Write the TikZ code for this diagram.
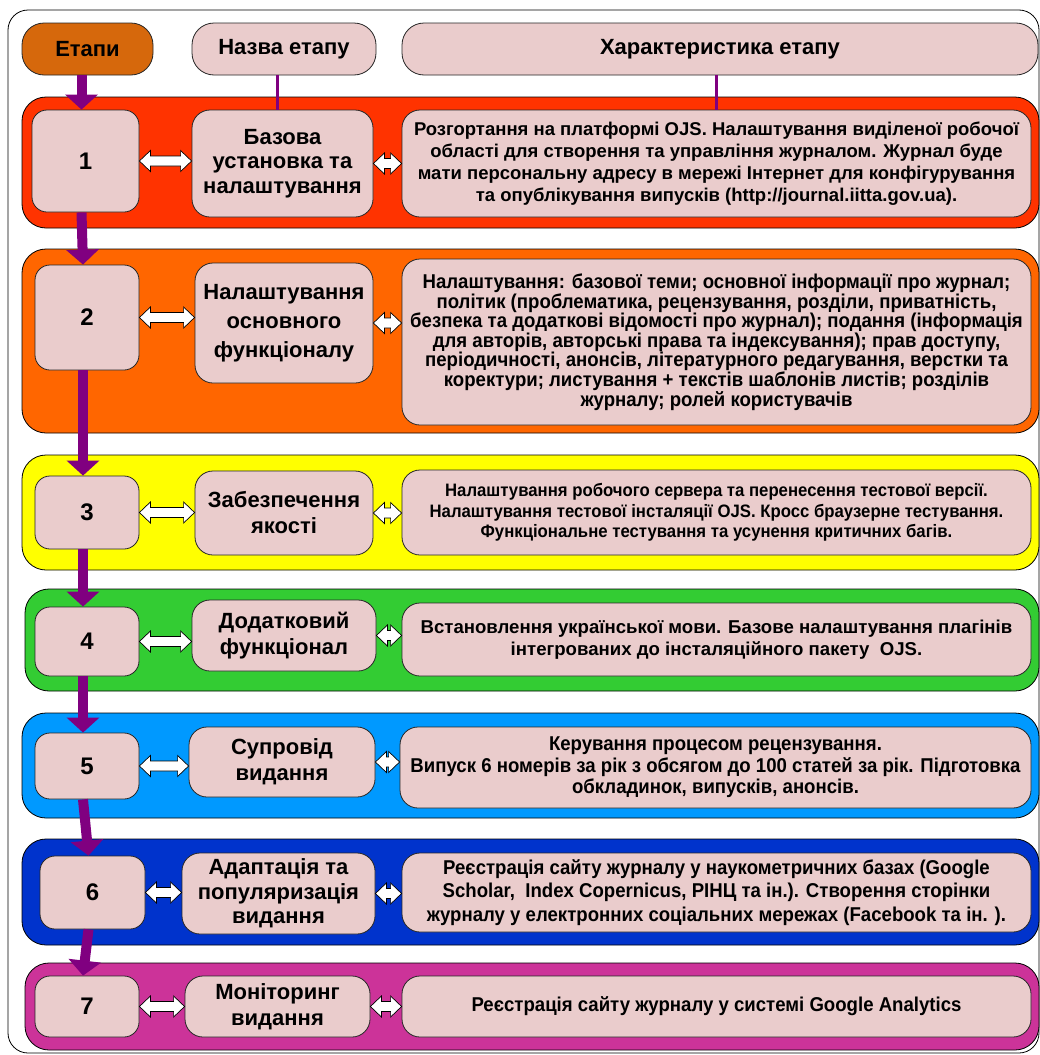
\documentclass[tikz,border=0pt]{standalone}
\usepackage{fontspec}
\setmainfont{Liberation Sans}
\newfontfamily\nar[FakeStretch=0.93]{Liberation Sans}
\usetikzlibrary{arrows.meta,calc}
\definecolor{pinkbox}{RGB}{234,204,204}
\definecolor{etapy}{RGB}{214,104,12}
\definecolor{bred}{RGB}{255,51,0}
\definecolor{borange}{RGB}{255,102,0}
\definecolor{byellow}{RGB}{255,255,0}
\definecolor{bgreen}{RGB}{51,204,51}
\definecolor{blblue}{RGB}{0,153,255}
\definecolor{bblue}{RGB}{0,51,204}
\definecolor{bmag}{RGB}{204,51,153}
\definecolor{parr}{RGB}{128,0,128}
\tikzset{
  x=1pt, y=-1pt,
  band/.style={draw=black, line width=0.8pt, rounded corners=24pt, inner sep=0pt},
  pbox/.style={draw=black!85, line width=0.8pt, fill=pinkbox, rounded corners=17pt, align=center, inner sep=0pt},
  hdr/.style={pbox, rounded corners=22pt, font=\fontsize{22}{26}\selectfont\bfseries},
  numbox/.style={pbox, rounded corners=15pt, font=\fontsize{24}{28}\selectfont\bfseries},
  namebox/.style={pbox, rounded corners=18pt, font=\fontsize{22}{24.5}\selectfont\bfseries},
  descbox/.style={pbox, rounded corners=18pt},
  parrow/.style={draw=parr, line width=10pt, -{Triangle[width=32pt,length=15pt]}, color=parr},
  hline/.style={draw=parr, line width=3pt},
  darr/.style={draw=black, fill=white, line width=0.7pt, line join=miter}
}
\newcommand\boxat[7]{\node[#1, minimum width={#4-#2}, minimum height={#5-#3}] (#6) at ({(#2+#4)/2},{(#3+#5)/2}) {#7};}
\newcommand\dblarr[2]{\path[darr] let \p1=(#1), \p2=(#2) in
  (\x1,\y1) -- ({\x1+11pt},{\y1+10.5pt}) -- ({\x1+11pt},{\y1+5pt}) -- ({\x2-11pt},{\y1+5pt}) -- ({\x2-11pt},{\y1+10.5pt}) -- (\x2,\y1)
  -- ({\x2-11pt},{\y1-10.5pt}) -- ({\x2-11pt},{\y1-5pt}) -- ({\x1+11pt},{\y1-5pt}) -- ({\x1+11pt},{\y1-10.5pt}) -- cycle;}
\begin{document}
\begin{tikzpicture}
\useasboundingbox (0,0) rectangle (1040,1055);
\fill[white] (0,0) rectangle (1040,1055);
\draw[line width=0.8pt, rounded corners=20pt] (8,10) rectangle (1039,1053);
% header
\boxat{hdr, fill=etapy}{22}{23}{153}{75}{hE}{Етапи}
\boxat{hdr}{192}{23}{376}{75}{hN}{Назва етапу}
\boxat{hdr}{402}{23}{1038}{75}{hD}{Характеристика етапу}
% bands
\boxat{band, fill=bred}{22}{97}{1039}{228}{b1}{}
\boxat{band, fill=borange}{22}{249}{1039}{433}{b2}{}
\boxat{band, fill=byellow}{22}{455}{1039}{570}{b3}{}
\boxat{band, fill=bgreen}{25}{589}{1039}{691}{b4}{}
\boxat{band, fill=blblue}{22}{713}{1039}{818}{b5}{}
\boxat{band, fill=bblue}{22}{839}{1039}{945}{b6}{}
\boxat{band, fill=bmag}{25}{963}{1039}{1050}{b7}{}
% stage 1
\boxat{numbox}{32}{110}{139}{212}{n1}{1}
\boxat{namebox}{192}{110}{373}{217}{m1}{Базова\\установка та\\налаштування}
\boxat{descbox, font=\fontsize{18.5}{22}\selectfont\bfseries}{402}{110}{1031}{217}{d1}{Розгортання на платформі OJS. Налаштування виділеної робочої\\області для створення та управління журналом. Журнал буде\\мати персональну адресу в мережі Інтернет для конфігурування\\та опублікування випусків (http://journal.iitta.gov.ua).}
% stage 2
\boxat{numbox}{35}{265}{139}{370}{n2}{2}
\boxat{namebox, font=\fontsize{22}{29}\selectfont\bfseries}{195}{263}{373}{383}{m2}{Налаштування\\основного\\функціоналу}
\boxat{descbox, font=\fontsize{20}{19.6}\selectfont\nar\bfseries}{402}{259}{1031}{425}{d2}{Налаштування: базової теми; основної інформації про журнал;\\політик (проблематика, рецензування, розділи, приватність,\\безпека та додаткові відомості про журнал); подання (інформація\\для авторів, авторські права та індексування); прав доступу,\\періодичності, анонсів, літературного редагування, верстки та\\коректури; листування + текстів шаблонів листів; розділів\\журналу; ролей користувачів}
% stage 3
\boxat{numbox}{35}{476}{139}{549}{n3}{3}
\boxat{namebox, font=\fontsize{22}{26}\selectfont\bfseries}{195}{471}{373}{555}{m3}{Забезпечення\\якості}
\boxat{descbox, font=\fontsize{18}{20.5}\selectfont\nar\bfseries}{402}{470}{1031}{555}{d3}{Налаштування робочого сервера та перенесення тестової версії.\\Налаштування тестової інсталяції OJS. Кросс браузерне тестування.\\Функціональне тестування та усунення критичних багів.}
% stage 4
\boxat{numbox}{35}{607}{139}{676}{n4}{4}
\boxat{namebox, font=\fontsize{22}{26}\selectfont\bfseries}{192}{600}{376}{671}{m4}{Додатковий\\функціонал}
\boxat{descbox, font=\fontsize{18.6}{22}\selectfont\bfseries}{402}{603}{1031}{676}{d4}{Встановлення української мови. Базове налаштування плагінів\\інтегрованих до інсталяційного пакету\ \ OJS.}
% stage 5
\boxat{numbox}{35}{733}{139}{799}{n5}{5}
\boxat{namebox, font=\fontsize{22}{26}\selectfont\bfseries}{189}{727}{375}{797}{m5}{Супровід\\видання}
\boxat{descbox, font=\fontsize{20}{21.5}\selectfont\nar\bfseries}{400}{727}{1031}{808}{d5}{Керування процесом рецензування.\\Випуск 6 номерів за рік з обсягом до 100 статей за рік. Підготовка\\обкладинок, випусків, анонсів.}
% stage 6
\boxat{numbox}{40}{856}{145}{929}{n6}{6}
\boxat{namebox}{182}{853}{375}{934}{m6}{Адаптація та\\популяризація\\видання}
\boxat{descbox, font=\fontsize{20}{23.5}\selectfont\nar\bfseries}{402}{853}{1031}{932}{d6}{Реєстрація сайту журналу у наукометричних базах (Google\\Scholar,\ \ Index Copernicus, РІНЦ та ін.). Створення сторінки\\журналу у електронних соціальних мережах (Facebook та ін. ).}
% stage 7
\boxat{numbox}{35}{976}{139}{1037}{n7}{7}
\boxat{namebox, font=\fontsize{22}{26}\selectfont\bfseries}{185}{976}{370}{1037}{m7}{Моніторинг\\видання}
\boxat{descbox, font=\fontsize{20}{22}\selectfont\nar\bfseries}{402}{976}{1031}{1037}{d7}{Реєстрація сайту журналу у системі Google Analytics}
% header connectors
\draw[hline] ([xshift=-7pt]hN.south) -- ([xshift=-7pt]hN.south |- m1.north);
\draw[hline] (d1.north |- hD.south) -- (d1.north);
% purple arrows
\draw[parrow] ([xshift=-4pt]n1.north |- hE.south) -- ([xshift=-4pt]n1.north);
\draw[parrow] ([xshift=-4pt]n1.south) -- ([xshift=-4pt]n2.north);
\draw[parrow] ([xshift=-4pt]n2.south) -- ([xshift=-4pt]n3.north);
\draw[parrow] ([xshift=-4pt]n3.south) -- ([xshift=-4pt]n4.north);
\draw[parrow] ([xshift=-4pt]n4.south) -- ([xshift=-4pt]n5.north);
\draw[parrow] ([xshift=-4pt]n5.south) -- ([xshift=-4pt]n6.north);
\draw[parrow] ([xshift=-4pt]n6.south) -- ([xshift=-4pt]n7.north);
% double arrows
\foreach \i in {1,...,7} {
  \dblarr{n\i.east}{n\i.east -| m\i.west}
  \dblarr{m\i.east}{m\i.east -| d\i.west}
}
\end{tikzpicture}
\end{document}
